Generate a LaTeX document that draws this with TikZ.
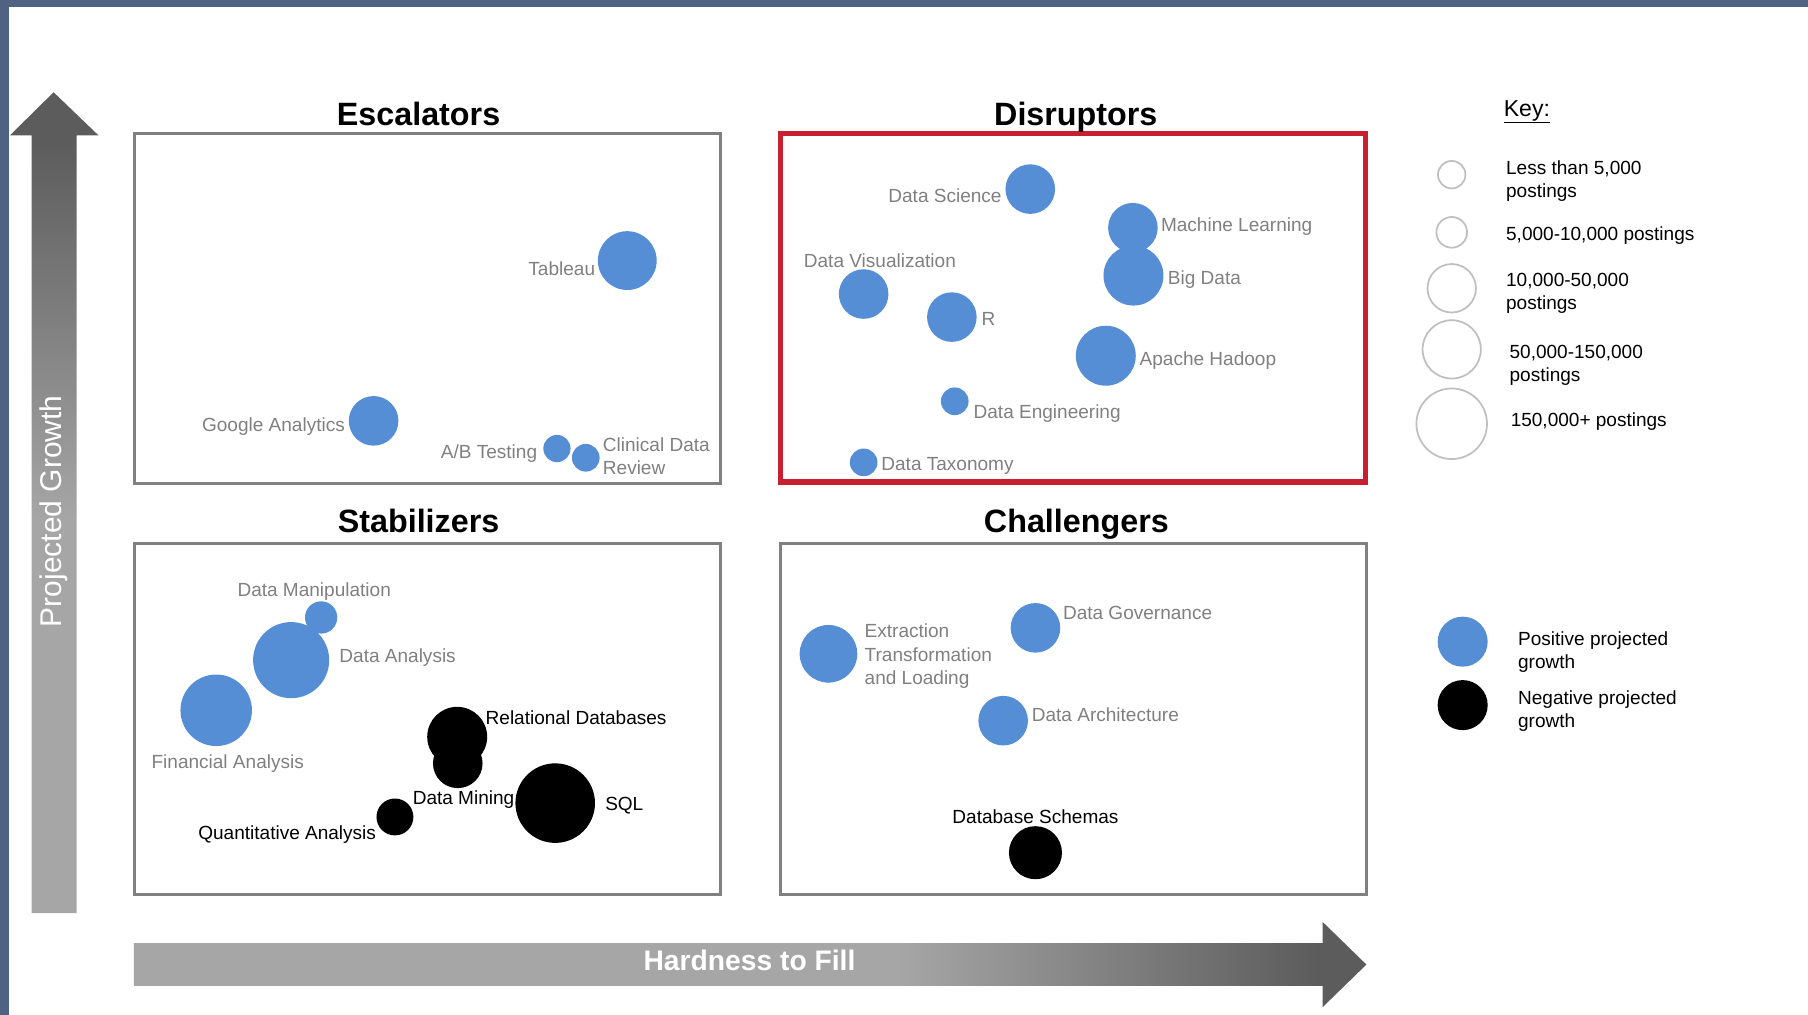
\documentclass[tikz,border=0pt]{standalone}
\usepackage{fontspec}
\setmainfont{Liberation Sans}
\usepackage{tikz}
\usetikzlibrary{positioning}

\definecolor{frameblue}{RGB}{79,98,130}
\definecolor{bubblue}{RGB}{85,142,213}
\definecolor{lblgray}{RGB}{128,128,128}
\definecolor{boxgray}{RGB}{128,128,128}
\definecolor{keygray}{RGB}{191,191,191}
\definecolor{hotred}{RGB}{200,32,48}
\definecolor{arrlight}{RGB}{166,166,166}
\definecolor{arrdark}{RGB}{92,92,92}

\pgfdeclarehorizontalshading{hardfill}{100bp}{color(0bp)=(arrlight); color(56bp)=(arrlight); color(73bp)=(arrdark); color(100bp)=(arrdark)}
\pgfdeclareverticalshading{growfill}{100bp}{color(0bp)=(arrlight); color(49bp)=(arrlight); color(72bp)=(arrdark); color(100bp)=(arrdark)}

\tikzset{
  bluebub/.style={circle,fill=bubblue,inner sep=0pt,minimum size=2*#1},
  blackbub/.style={circle,fill=black,inner sep=0pt,minimum size=2*#1},
  keybub/.style={circle,draw=keygray,line width=1.5pt,inner sep=0pt,minimum size=2*#1},
  lbl/.style={text=lblgray,inner sep=0pt,yshift=-2pt,font=\fontsize{16.5}{20}\selectfont,align=left},
  lblk/.style={lbl,text=black},
  ttl/.style={inner sep=0pt,font=\fontsize{28}{30}\selectfont\bfseries},
  panel/.style={draw=boxgray,line width=2.5pt},
  hotpanel/.style={draw=hotred,line width=4.5pt},
}

\begin{document}
\begin{tikzpicture}[x=1pt,y=-1pt,node distance=3pt]
        \useasboundingbox (0,0) rectangle (1568,880);
        \fill[white] (0,0) rectangle (1568,880);
        \fill[frameblue] (0,0) rectangle (1568,6);
        \fill[frameblue] (0,0) rectangle (8,880);

        % axes
        \shade[shading=growfill] (46.5,80) -- (85.5,117.5) -- (66.5,117.5) -- (66.5,792)
          -- (27.5,792) -- (27.5,117.5) -- (8.5,117.5) -- cycle;
        \node[white,rotate=90,inner sep=0pt,font=\fontsize{26}{26}\selectfont] (growth) at (47,443.5) {Projected Growth};
        \shade[shading=hardfill] (116,818) -- (1147,818) -- (1147,799.5) -- (1185,836.5)
          -- (1147,873.5) -- (1147,855) -- (116,855) -- cycle;
        \node[white,inner sep=0pt,font=\fontsize{24.5}{25}\selectfont\bfseries] (hard) at (650,833) {Hardness to Fill};

        % quadrants
        \draw[panel] (117,116) rectangle (625,419);
        \draw[hotpanel] (677,116) rectangle (1184,418);
        \draw[panel] (117,471) rectangle (625,776);
        \draw[panel] (677,471) rectangle (1185,776);
        \node[ttl,anchor=base] (esct) at (363,108.5) {Escalators};
        \node[ttl,anchor=base] (dist) at (933,108.5) {Disruptors};
        \node[ttl,anchor=base] (stat) at (363,461.5) {Stabilizers};
        \node[ttl,anchor=base] (chat) at (933.5,461.5) {Challengers};

        % escalators
        \node[bluebub=25.5] (tab) at (544,226) {};
        \node[lbl,left=2pt of tab,yshift=-5pt] (tabl) {Tableau};
        \node[bluebub=21.5] (ga) at (324,365) {};
        \node[lbl,left=3pt of ga,yshift=-3pt] (gal) {Google Analytics};
        \node[bluebub=11.8] (ab) at (483,389) {};
        \node[lbl,left=5pt of ab,yshift=-2pt] (abl) {A/B Testing};
        \node[bluebub=12] (cdr) at (508,397) {};
        \node[lbl,right=2.5pt of cdr,yshift=3.5pt] (cdrl) {Clinical Data\\Review};

        % disruptors
        \node[bluebub=21.5] (ds) at (893.5,164) {};
        \node[lbl,left=3pt of ds,yshift=-4pt] (dsl) {Data Science};
        \node[bluebub=21.5] (ml) at (982.5,197.5) {};
        \node[lbl,right=2.5pt of ml,yshift=3pt] (mll) {Machine Learning};
        \node[bluebub=26] (bd) at (983,239) {};
        \node[lbl,right=3.5pt of bd,yshift=-1.5pt] (bdl) {Big Data};
        \node[bluebub=21.5] (dv) at (749,255) {};
        \node[lbl,anchor=west] (dvl) at (697,224) {Data Visualization};
        \node[bluebub=21.5] (rr) at (825.5,275) {};
        \node[lbl,right=4pt of rr] (rrl) {R};
        \node[bluebub=26] (ah) at (959,308.5) {};
        \node[lbl,right=3pt of ah,yshift=-2pt] (ahl) {Apache Hadoop};
        \node[bluebub=12] (de) at (828,348) {};
        \node[lbl,right=4pt of de,yshift=-8.5pt] (del) {Data Engineering};
        \node[bluebub=12] (dt) at (749,401) {};
        \node[lbl,right=3pt of dt,yshift=-1.5pt] (dtl) {Data Taxonomy};

        % stabilizers
        \node[bluebub=14] (dm) at (278.5,535.5) {};
        \node[lbl,above=2pt of dm,xshift=-6pt] (dml) {Data Manipulation};
        \node[bluebub=33] (da) at (252.5,572.5) {};
        \node[lbl,right=8.5pt of da,yshift=4.5pt] (dal) {Data Analysis};
        \node[bluebub=31] (fa) at (187.5,616) {};
        \node[lbl,below=5pt of fa,xshift=10pt] (fal) {Financial Analysis};
        \node[blackbub=21.5] (dmi) at (397,662) {};
        \node[blackbub=26] (rd) at (396.5,639) {};
        \node[lblk,right=6pt of rd.north east] (rdl) {Relational Databases};
        \node[lblk,below=0pt of dmi,xshift=5pt] (dmil) {Data Mining};
        \node[blackbub=34.5] (sql) at (481.5,696.5) {};
        \node[lblk,right=8.5pt of sql] (sqll) {SQL};
        \node[blackbub=16] (qa) at (342.5,708.5) {};
        \node[lblk,left=0pt of qa,yshift=-13pt] (qal) {Quantitative Analysis};

        % challengers
        \node[bluebub=25] (etl) at (718.5,567) {};
        \node[lbl,right=6pt of etl] (etll) {Extraction\\Transformation\\and Loading};
        \node[bluebub=21.5] (dg) at (898,544.5) {};
        \node[lbl,right=2pt of dg,yshift=14.5pt] (dgl) {Data Governance};
        \node[bluebub=21.5] (dar) at (870,625) {};
        \node[lbl,right=3pt of dar,yshift=7.5pt] (darl) {Data Architecture};
        \node[blackbub=23] (dbs) at (898,739.5) {};
        \node[lblk,above=4pt of dbs] (dbsl) {Database Schemas};

        % key
        \node[inner sep=0pt,anchor=west,font=\fontsize{20}{22}\selectfont] (key) at (1304,97) {\underline{Key:}};
        \foreach \y/\rad/\lx/\ly/\txt [count=\i] in {151.5/11.9/1306/155/{Less than 5,000\\postings},
            201.5/13.3/1306/202.5/{5,000-10,000 postings}, 250/21/1306/252/{10,000-50,000\\postings},
            303/25.3/1309/315/{50,000-150,000\\postings}, 367.5/30.6/1310/363.5/{150,000+ postings}} {
        	\node[keybub=\rad] (size\i) at (1259,\y) {};
        	\node[lblk,anchor=west] (sizel\i) at (\lx,\ly) {\txt};
        }
        \node[bluebub=21.7] (posb) at (1268.5,556.5) {};
        \node[lblk,right=26pt of posb,yshift=-7pt] (posl) {Positive projected\\growth};
        \node[blackbub=21.7] (negb) at (1268.5,611.5) {};
        \node[lblk,right=26pt of negb,yshift=-3.5pt] (negl) {Negative projected\\growth};
\end{tikzpicture}
\end{document}
